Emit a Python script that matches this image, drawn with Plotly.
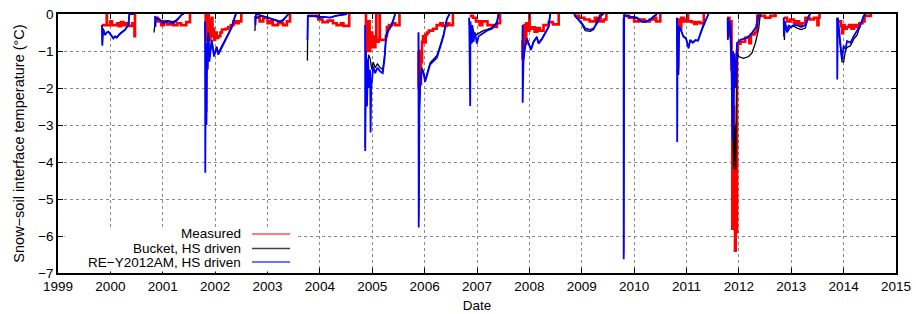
import plotly.graph_objects as go

G = (None, None)

measured = [
    (1999.84, -0.3), (1999.93, 0), (1999.935, -0.3), (2000.0, -0.2), (2000.03, -0.3), (2000.13, -0.25),
    (2000.16, -0.33), (2000.2, -0.22), (2000.25, -0.3), (2000.3, -0.25), (2000.35, -0.32), (2000.42, -0.25),
    (2000.46, -0.6), (2000.47, 0), G,
    (2000.86, -0.1), (2000.9, -0.2), (2000.97, -0.3), (2001.02, -0.2), (2001.08, -0.28), (2001.15, -0.22),
    (2001.2, -0.3), (2001.28, -0.25), (2001.35, -0.3), (2001.45, -0.22), (2001.52, 0), G,
    (2001.81, 0), (2001.82, -0.5), (2001.83, -0.1), (2001.84, -0.7), (2001.85, -0.2), (2001.86, -0.6),
    (2001.87, 0), (2001.88, -0.5), (2001.89, -0.15), (2001.9, -0.7), (2001.91, -0.3), (2001.92, -0.6),
    (2001.935, -0.1), (2001.95, -0.55), (2001.96, -0.4), (2001.98, -0.7), (2002.0, -0.5), (2002.03, -0.65),
    (2002.06, -0.6), (2002.1, -0.5), (2002.13, -0.42), (2002.2, -0.4), (2002.25, -0.35), (2002.3, -0.3),
    (2002.35, -0.2), (2002.4, -0.25), (2002.45, -0.2), (2002.5, 0), G,
    (2002.77, -0.1), (2002.85, -0.2), (2002.92, -0.1), (2003.0, -0.25), (2003.05, -0.2), (2003.1, -0.3),
    (2003.2, -0.25), (2003.3, -0.3), (2003.37, -0.2), (2003.43, 0), G,
    (2003.77, -0.05), (2003.97, -0.15), (2004.05, -0.22), (2004.15, -0.18), (2004.25, -0.25), (2004.32, -0.3),
    (2004.4, -0.25), (2004.45, -0.32), (2004.56, 0), G,
    (2004.87, 0), (2004.88, -0.9), (2004.89, -0.2), (2004.9, -1.0), (2004.91, -0.4), (2004.92, -0.8),
    (2004.935, -0.2), (2004.95, -1.0), (2004.96, -0.6), (2004.975, -0.9), (2004.99, -0.5), (2005.0, -0.8),
    (2005.02, -0.6), (2005.04, -0.9), (2005.06, -0.75), (2005.075, 0), (2005.08, -0.75), (2005.12, -0.7),
    (2005.14, 0), (2005.145, -0.7), (2005.2, -0.7), (2005.26, -0.6), (2005.28, -0.35), (2005.32, -0.3),
    (2005.38, -0.25), (2005.44, -0.3), (2005.52, 0), G,
    (2005.88, -1.0), (2005.885, -2.0), (2005.89, -1.2), (2005.9, -1.6), (2005.91, -1.0), (2005.92, -1.9),
    (2005.93, -1.1), (2005.94, -1.3), (2005.95, -0.75), (2005.97, -0.6), (2006.0, -0.77), (2006.02, -0.55),
    (2006.05, -0.5), (2006.08, -0.45), (2006.16, -0.4), (2006.23, -0.3), (2006.3, -0.25), (2006.35, -0.32),
    (2006.42, -0.25), (2006.47, -0.3), (2006.54, 0), G,
    (2006.86, -0.05), (2006.92, -0.1), (2006.98, -0.2), (2007.05, -0.3), (2007.1, -0.2), (2007.2, -0.3),
    (2007.3, -0.35), (2007.38, -0.25), (2007.44, 0), G,
    (2007.86, -0.7), (2007.87, -1.2), (2007.88, -0.5), (2007.89, -0.9), (2007.9, -0.3), (2007.92, -0.8),
    (2007.94, -0.25), (2007.96, -0.45), (2008.0, 0), (2008.005, -0.4), (2008.05, -0.36), (2008.1, -0.48),
    (2008.15, -0.38), (2008.2, -0.45), (2008.27, -0.3), (2008.37, -0.22), (2008.45, -0.28), (2008.56, 0), G,
    (2008.87, -0.05), (2008.95, -0.1), (2009.05, -0.15), (2009.15, -0.2), (2009.25, -0.1), (2009.3, -0.2),
    (2009.35, 0), (2009.36, -0.2), (2009.42, -0.15), (2009.47, 0), G,
    (2009.8, -0.05), (2009.9, -0.1), (2010.0, -0.2), (2010.1, -0.15), (2010.2, -0.2), (2010.3, -0.15),
    (2010.38, -0.1), (2010.42, -0.2), (2010.5, 0), G,
    (2010.82, -0.3), (2010.83, -0.15), (2010.88, -0.4), (2010.9, -0.1), (2010.95, -0.2), (2011.0, -0.15),
    (2011.02, 0), (2011.03, -0.2), (2011.1, -0.22), (2011.15, -0.27), (2011.2, -0.22), (2011.26, -0.25),
    (2011.33, 0), G,
    (2011.785, -0.3), (2011.8, -0.1), (2011.82, -0.6), (2011.84, -0.2), (2011.86, -1.5), (2011.875, -5.8),
    (2011.89, -2.5), (2011.905, -4.0), (2011.925, -6.4), (2011.94, -3.0), (2011.955, -5.9), (2011.965, -1.0),
    (2011.98, -0.8), (2012.03, -0.75), (2012.12, -0.64), (2012.2, -0.79), (2012.23, -0.55), (2012.3, -0.5),
    (2012.34, -0.3), (2012.35, -0.05), (2012.5, -0.1), (2012.6, -0.05), (2012.7, 0), G,
    (2012.86, -0.1), (2012.92, -0.2), (2012.98, -0.15), (2013.05, -0.25), (2013.1, -0.2), (2013.15, -0.3),
    (2013.2, -0.25), (2013.27, -0.1), (2013.35, -0.15), (2013.43, -0.1), (2013.5, -0.3), (2013.52, -0.1),
    (2013.54, 0), G,
    (2013.88, -0.2), (2013.95, -0.33), (2013.97, -0.52), (2013.99, -0.3), (2014.02, -0.4), (2014.06, -0.35),
    (2014.1, -0.3), (2014.15, -0.4), (2014.2, -0.3), (2014.25, -0.35), (2014.3, -0.25), (2014.36, -0.2),
    (2014.4, -0.05), (2014.5, -0.05), (2014.52, 0),
]

bucket = [
    (1999.84, -0.3), (1999.846, -0.8), (1999.86, -0.4), (1999.898, -0.55), (1999.961, -0.47), (2000.056, -0.64),
    (2000.121, -0.62), (2000.184, -0.52), (2000.28, -0.42), (2000.343, -0.29), (2000.362, 0), G,
    (2000.834, -0.5), (2000.86, -0.1), (2000.92, -0.15), (2001.01, -0.22), (2001.1, -0.18), (2001.2, -0.22),
    (2001.27, -0.15), (2001.36, -0.02), (2001.4, 0), G,
    (2001.808, -0.2), (2001.84, -2.65), (2001.845, -0.8), (2001.871, -0.5), (2001.89, -1.2), (2001.935, -0.7),
    (2001.98, -1.1), (2002.03, -0.88), (2002.06, -1.05), (2002.127, -0.88), (2002.19, -0.7), (2002.253, -0.52),
    (2002.318, -0.33), (2002.38, -0.04), (2002.4, 0), G,
    (2002.76, -0.46), (2002.77, -0.1), (2002.9, -0.05), (2003.017, -0.1), (2003.11, -0.16), (2003.24, -0.22),
    (2003.3, -0.18), (2003.336, -0.1), (2003.4, 0), G,
    (2003.762, -1.26), (2003.77, -0.05), (2003.9, -0.05), (2004.068, -0.08), (2004.196, -0.1), (2004.3, -0.05),
    (2004.515, 0), G,
    (2004.864, -3.6), (2004.88, -1.0), (2004.9, -2.2), (2004.93, -1.1), (2004.96, -1.2), (2004.99, -1.5),
    (2005.02, -1.3), (2005.055, -1.45), (2005.1, -1.35), (2005.15, -1.45), (2005.2, -1.5), (2005.233, -1.15),
    (2005.266, -0.55), (2005.31, -0.42), (2005.374, -0.28), (2005.437, 0), G,
    (2005.883, -0.5), (2005.887, -5.5), (2005.9, -2.5), (2005.915, -1.9), (2005.947, -1.45), (2005.978, -1.55),
    (2006.01, -1.78), (2006.04, -1.65), (2006.074, -1.5), (2006.106, -1.32), (2006.17, -1.22), (2006.234, -1.12),
    (2006.297, -0.85), (2006.36, -0.55), (2006.425, -0.12), (2006.475, 0), G,
    (2006.851, -0.1), (2006.87, -0.7), (2006.9, -0.3), (2006.96, -0.6), (2006.998, -0.55), (2007.06, -0.5),
    (2007.12, -0.45), (2007.189, -0.42), (2007.284, -0.37), (2007.38, -0.22), (2007.41, 0), G,
    (2007.87, -1.3), (2007.888, -1.2), (2007.92, -0.85), (2007.953, -0.66), (2007.984, -0.78), (2008.03, -0.95),
    (2008.079, -0.74), (2008.144, -0.61), (2008.175, -0.78), (2008.24, -0.66), (2008.303, -0.5), (2008.366, -0.34),
    (2008.398, 0), G,
    (2008.857, 0), (2008.87, -0.05), (2008.94, -0.17), (2009.004, -0.28), (2009.067, -0.45), (2009.163, -0.47),
    (2009.226, -0.42), (2009.29, -0.2), (2009.353, -0.05), (2009.417, 0), G,
    (2009.799, -0.1), (2009.801, -6.5), (2009.81, -0.03), (2009.927, -0.08), (2010.055, -0.12), (2010.15, -0.22),
    (2010.23, -0.21), (2010.31, -0.15), (2010.37, -0.06), (2010.437, 0), G,
    (2010.818, -0.1), (2010.822, -1.0), (2010.85, -1.65), (2010.86, -0.35), (2010.9, -0.47), (2010.94, -0.62),
    (2010.99, -0.67), (2011.04, -0.9), (2011.07, -0.72), (2011.12, -0.78), (2011.17, -0.72), (2011.22, -0.72),
    (2011.26, -0.56), (2011.32, -0.32), (2011.39, -0.1), (2011.42, 0), G,
    (2011.785, -0.1), (2011.79, -0.5), (2011.84, -0.3), (2011.87, -1.5), (2011.9, -4.2), (2011.92, -3.0),
    (2011.94, -4.2), (2011.955, -2.0), (2011.964, -1.0), (2011.995, -1.15), (2012.09, -1.2), (2012.187, -1.15),
    (2012.25, -1.05), (2012.314, -0.79), (2012.377, -0.4), (2012.41, 0), G,
    (2012.855, -0.1), (2012.87, -0.7), (2012.88, -0.25), (2012.92, -0.5), (2012.982, -0.36), (2013.05, -0.33),
    (2013.11, -0.38), (2013.19, -0.42), (2013.269, -0.38), (2013.3, -0.25), (2013.334, -0.05), (2013.365, 0), G,
    (2013.875, -0.1), (2013.89, -0.3), (2013.938, -0.9), (2013.97, -1.29), (2014.0, -1.29), (2014.034, -1.0),
    (2014.066, -0.9), (2014.13, -0.86), (2014.193, -0.68), (2014.256, -0.57), (2014.32, -0.3), (2014.384, -0.05),
    (2014.416, 0),
]

re_y2012am = [
    (1999.84, -0.3), (1999.846, -0.86), (1999.86, -0.4), (1999.898, -0.57), (1999.93, -0.5), (1999.961, -0.48),
    (2000.0, -0.55), (2000.056, -0.66), (2000.09, -0.6), (2000.121, -0.64), (2000.184, -0.54), (2000.24, -0.48),
    (2000.28, -0.43), (2000.343, -0.3), (2000.362, 0), (2000.45, 0), G,
    (2000.853, -0.05), (2000.86, -0.35), (2000.87, -0.1), (2000.92, -0.12), (2000.97, -0.18), (2001.01, -0.25),
    (2001.1, -0.2), (2001.2, -0.25), (2001.27, -0.18), (2001.36, -0.02), (2001.4, 0), G,
    (2001.808, -0.2), (2001.812, -4.29), (2001.82, -1.5), (2001.835, -3.0), (2001.845, -0.8), (2001.86, -1.5),
    (2001.871, -0.52), (2001.89, -1.29), (2001.935, -0.72), (2001.98, -1.15), (2002.03, -0.9), (2002.06, -1.1),
    (2002.127, -0.9), (2002.19, -0.72), (2002.253, -0.55), (2002.318, -0.36), (2002.38, -0.05), (2002.4, 0), G,
    (2002.763, -0.05), (2002.77, -0.3), (2002.78, 0), (2002.9, -0.05), (2003.017, -0.1), (2003.11, -0.15),
    (2003.24, -0.2), (2003.3, -0.16), (2003.336, -0.1), (2003.4, 0), G,
    (2003.762, -0.7), (2003.77, -0.05), (2003.9, -0.05), (2004.0, -0.1), (2004.068, -0.08), (2004.196, -0.1),
    (2004.3, -0.05), (2004.4, -0.03), (2004.515, 0), G,
    (2004.864, -0.3), (2004.866, -3.7), (2004.88, -1.0), (2004.9, -2.5), (2004.92, -1.2), (2004.94, -2.0),
    (2004.96, -1.51), (2004.968, -3.2), (2004.98, -2.0), (2004.99, -1.78), (2005.02, -1.42), (2005.055, -1.6),
    (2005.1, -1.45), (2005.15, -1.55), (2005.2, -1.6), (2005.233, -1.24), (2005.266, -0.61), (2005.31, -0.45),
    (2005.374, -0.3), (2005.437, 0), G,
    (2005.883, -0.5), (2005.887, -5.77), (2005.9, -2.7), (2005.915, -1.96), (2005.947, -1.5), (2005.978, -1.6),
    (2006.01, -1.83), (2006.04, -1.7), (2006.074, -1.55), (2006.106, -1.36), (2006.17, -1.27), (2006.234, -1.18),
    (2006.297, -0.9), (2006.36, -0.6), (2006.425, -0.14), (2006.475, 0), G,
    (2006.851, -0.1), (2006.87, -2.49), (2006.875, -0.2), (2006.9, -0.8), (2006.91, -0.3), (2006.933, -0.75),
    (2006.96, -0.5), (2006.998, -0.8), (2007.03, -0.6), (2007.093, -0.54), (2007.189, -0.45), (2007.284, -0.4),
    (2007.38, -0.25), (2007.41, 0), G,
    (2007.87, -0.3), (2007.872, -2.4), (2007.888, -1.24), (2007.92, -0.88), (2007.953, -0.68), (2007.984, -0.8),
    (2008.03, -0.97), (2008.079, -0.76), (2008.144, -0.63), (2008.175, -0.8), (2008.24, -0.68), (2008.303, -0.52),
    (2008.366, -0.36), (2008.398, 0), G,
    (2008.857, 0), (2008.87, -0.05), (2008.94, -0.15), (2009.004, -0.25), (2009.067, -0.39), (2009.163, -0.43),
    (2009.226, -0.39), (2009.29, -0.25), (2009.353, -0.05), (2009.417, 0), G,
    (2009.799, -0.1), (2009.801, -6.63), (2009.81, -0.03), (2009.927, -0.07), (2010.055, -0.1), (2010.15, -0.2),
    (2010.23, -0.2), (2010.31, -0.15), (2010.37, -0.07), (2010.437, 0), G,
    (2010.818, -0.1), (2010.822, -3.46), (2010.83, -0.3), (2010.845, -1.5), (2010.86, -0.34), (2010.9, -0.45),
    (2010.94, -0.6), (2010.99, -0.65), (2011.04, -0.93), (2011.07, -0.7), (2011.12, -0.77), (2011.17, -0.7),
    (2011.22, -0.72), (2011.26, -0.55), (2011.32, -0.3), (2011.39, -0.1), (2011.42, 0), G,
    (2011.785, -0.1), (2011.79, -0.7), (2011.8, -0.1), (2011.81, -0.5), (2011.83, -0.2), (2011.86, -1.5),
    (2011.88, -3.4), (2011.89, -1.0), (2011.9, -3.0), (2011.915, -1.06), (2011.935, -2.0), (2011.964, -0.79),
    (2012.028, -0.7), (2012.123, -0.66), (2012.219, -0.57), (2012.314, -0.4), (2012.345, -0.32), (2012.377, 0), G,
    (2012.855, -0.1), (2012.86, -0.61), (2012.88, -0.2), (2012.92, -0.48), (2012.95, -0.3), (2012.982, -0.35),
    (2013.05, -0.3), (2013.11, -0.3), (2013.19, -0.35), (2013.269, -0.3), (2013.334, -0.05), (2013.365, 0), G,
    (2013.875, -0.1), (2013.878, -1.77), (2013.89, -0.1), (2013.938, -0.78), (2013.97, -1.24), (2014.0, -0.86),
    (2014.034, -0.95), (2014.066, -0.73), (2014.13, -0.78), (2014.193, -0.6), (2014.256, -0.45), (2014.32, -0.3),
    (2014.384, -0.05), (2014.416, 0),
]

year_ticks = list(range(1999, 2016))
temp_ticks = [0, -1, -2, -3, -4, -5, -6, -7]
legend_labels = ["Measured", "Bucket, HS driven", "RE\u2212Y2012AM, HS driven"]
series_colors = ["#ff0000", "#000000", "#0000ff"]


def unzip(pairs):
    return [p[0] for p in pairs], [p[1] for p in pairs]


FONT = "Liberation Sans, Arial, sans-serif"
FS = 13.5
fig = go.Figure()
for pairs, color, width, shape, name in [
    (measured, series_colors[0], 2.6, "hv", legend_labels[0]),
    (bucket, series_colors[1], 1.3, "linear", legend_labels[1]),
    (re_y2012am, series_colors[2], 1.8, "linear", legend_labels[2]),
]:
    xs, ys = unzip(pairs)
    fig.add_trace(go.Scatter(x=xs, y=ys, mode="lines", name=name, showlegend=False,
                             line=dict(color=color, width=width, shape=shape),
                             connectgaps=False))

axis_common = dict(showline=True, linecolor="black", linewidth=1.5, mirror="ticks",
                   ticks="inside", ticklen=5, tickcolor="black", automargin=False,
                   showgrid=True, gridcolor="#8a8a8a", griddash="dot", gridwidth=1,
                   zeroline=False, tickfont=dict(family=FONT, size=FS, color="black"))

fig.update_xaxes(range=[1999, 2015], tickvals=year_ticks, ticktext=[str(y) for y in year_ticks],
                 title=dict(text="Date", font=dict(family=FONT, size=FS, color="black"), standoff=8),
                 **axis_common)
fig.update_yaxes(range=[-7, 0], tickvals=temp_ticks,
                 title=dict(text="Snow\u2212soil interface temperature (\u00b0C)",
                            font=dict(family=FONT, size=14.5, color="black"), standoff=10),
                 **axis_common)

# legend drawn gnuplot-style: text right-aligned, sample line to its right
shapes = [dict(type="rect", xref="paper", yref="paper", x0=0.008, x1=0.283, y0=0.006, y1=0.174,
               fillcolor="white", line=dict(width=0), layer="above")]
annotations = []
rows = [0.151, 0.095, 0.042]
legend_line_colors = ["#ff5050", "#404040", "#4040ff"]
for label, color, yy in zip(legend_labels, legend_line_colors, rows):
    shapes.append(dict(type="line", xref="paper", yref="paper", x0=0.2315, x1=0.277, y0=yy, y1=yy,
                       line=dict(color=color, width=1.5), layer="above"))
    annotations.append(dict(xref="paper", yref="paper", x=0.2196, y=yy, text=label, showarrow=False,
                            xanchor="right", yanchor="middle", borderpad=0,
                            font=dict(family=FONT, size=FS, color="black")))

fig.update_layout(width=916, height=314, margin=dict(l=58, r=20, t=14, b=41),
                  paper_bgcolor="white", plot_bgcolor="white",
                  shapes=shapes, annotations=annotations, showlegend=False)

fig.write_html("out.html", config={"displayModeBar": False},
               post_script="document.body.style.margin='0px';")
